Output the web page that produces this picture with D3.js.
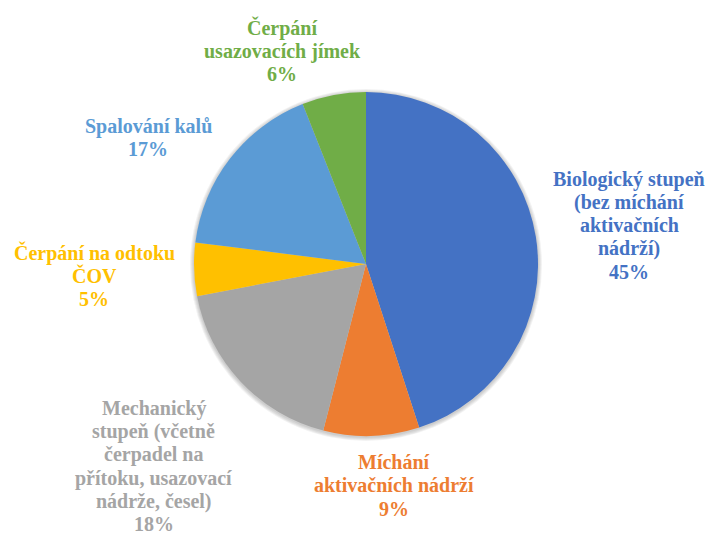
<!DOCTYPE html>
<html>
<head>
<meta charset="utf-8">
<script src="https://cdn.jsdelivr.net/npm/d3@7"></script>
<style>
  html, body { margin: 0; padding: 0; background: #fff; }
  svg { display: block; }
</style>
</head>
<body>
<svg id="chart" width="711" height="534"></svg>
<script>
// Energy consumption shares of a wastewater treatment plant
const categories = [
  ["Biologický stupeň", "(bez míchání", "aktivačních", "nádrží)"],
  ["Míchání", "aktivačních nádrží"],
  ["Mechanický", "stupeň (včetně", "čerpadel na", "přítoku, usazovací", "nádrže, česel)"],
  ["Čerpání na odtoku", "ČOV"],
  ["Spalování kalů"],
  ["Čerpání", "usazovacích jímek"]
];
const values = [45, 9, 18, 5, 17, 6];
const colors = ["#4472C4", "#ED7D31", "#A5A5A5", "#FFC000", "#5B9BD5", "#70AD47"];

// label placement: angular nudge (degrees) and distance from centre
const labelNudge = [0.6, -5.4, -0.4, -0.7, -7.6, -10.7];
const labelDist = [266, 223, 293, 272, 252, 229];

const svg = d3.select("#chart");
const cx = 366, cy = 264, radius = 172;
const fontSize = 20, lineH = 23.3;

// text widths for centring each line
const ctx = document.createElement("canvas").getContext("2d");
ctx.font = `bold ${fontSize}px "Liberation Serif", monospace`;
const textWidth = s => ctx.measureText(s).width;

const pie = d3.pie().sort(null).value(d => d);
const arcs = pie(values);
const arc = d3.arc().innerRadius(0).outerRadius(radius);
const fmt = d3.format(".0%");
const total = d3.sum(values);

// soft halo under the pie, built from faint rings
const halo = svg.append("g").attr("transform", `translate(${cx},${cy + 1})`);
[4, 3, 2, 1].forEach(k => {
  halo.append("circle").attr("r", radius + k).attr("fill", "#000").attr("fill-opacity", 0.05);
});

svg.append("g")
  .attr("transform", `translate(${cx},${cy})`)
  .selectAll("path").data(arcs).join("path")
  .attr("d", arc)
  .attr("fill", (d, i) => colors[i]);

// labels, one text element per line
arcs.forEach((d, i) => {
  const lines = categories[i].concat([fmt(d.value / total)]);
  const a = (d.startAngle + d.endAngle) / 2 + labelNudge[i] * Math.PI / 180;
  const x = cx + Math.sin(a) * labelDist[i];
  const y = cy - Math.cos(a) * labelDist[i];
  const y0 = y - (lines.length - 1) * lineH / 2;
  lines.forEach((ln, k) => {
    svg.append("text")
      .attr("x", Math.round(x - textWidth(ln) / 2))
      .attr("y", Math.round(y0 + k * lineH + fontSize * 0.35))
      .attr("font-size", fontSize)
      .attr("font-weight", "bold")
      .style("font-family", "\"Liberation Serif\"")
      .attr("fill", colors[i])
      .text(ln);
  });
});
</script>
</body>
</html>
